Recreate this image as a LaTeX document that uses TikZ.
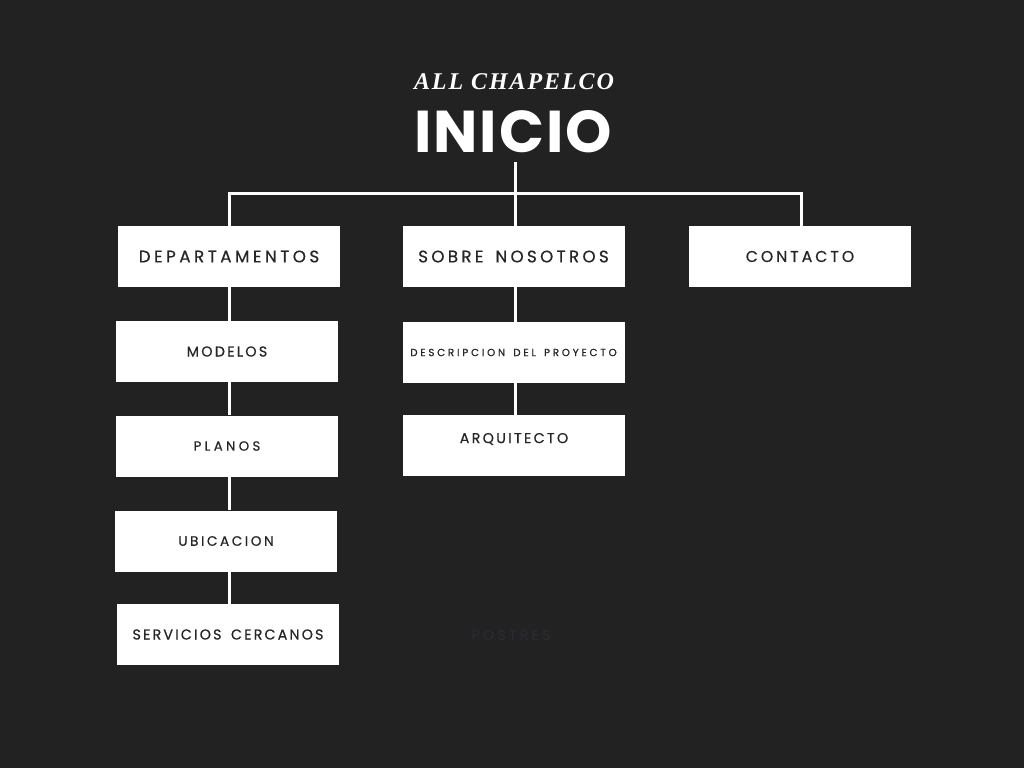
\documentclass[tikz,border=0pt]{standalone}
\usepackage{fontspec}
\newfontfamily\pop{Poppins}[FakeBold=0.6]
\newfontfamily\popbold{Poppins}[BoldFont={Poppins Bold},LetterSpace=3.4]
\newfontfamily\serifbi{Liberation Serif}[LetterSpace=8]
\definecolor{bg}{HTML}{222222}
\definecolor{ink}{HTML}{262626}
\definecolor{ghost}{HTML}{2A2A33}
\newcommand{\lbl}[2]{\pop\fontsize{#1}{#1}\selectfont\addfontfeature{LetterSpace=#2}}
\newcommand{\wsp}{\hspace{0.25em}}
\tikzset{
  box/.style={fill=white, draw=none, minimum width=222pt, minimum height=61pt, inner sep=0pt, text=ink},
  conn/.style={draw=white, line width=3pt}
}
\begin{document}
\begin{tikzpicture}[x=1pt,y=-1pt]
\useasboundingbox[fill=bg] (0,0) rectangle (1024,768);
\node[anchor=base, text=white, font=\serifbi\fontsize{24}{26}\selectfont\bfseries\itshape] (brand) at (514,89) {ALL CHAPELCO};
\node[anchor=base, text=white, font=\popbold\fontsize{59}{60}\selectfont\bfseries] (inicio) at (513,152) {INICIO};
\node[box, font=\lbl{16.7}{21}] (dep) at (229,256.5) {DEPARTAMENTOS};
\node[box, font=\lbl{16.7}{20}] (sob) at (513.5,256.5) {SOBRE\wsp{} NOSOTROS};
\node[box, font=\lbl{15.7}{19}] (con) at (800,256.5) {CONTACTO};
\node[box, font=\lbl{14.3}{16}] (mod) at (227,351.5) {MODELOS};
\node[box, font=\lbl{13.3}{25}] (pla) at (227,446) {PLANOS};
\node[box, font=\lbl{13.6}{19}] (ubi) at (226,541) {UBICACION};
\node[box, font=\lbl{14.3}{15}] (ser) at (228,634.5) {SERVICIOS\wsp{} CERCANOS};
\node[box, font=\lbl{10.3}{27}] (des) at (513.5,352.5) {DESCRIPCION\wsp{} DEL\wsp{} PROYECTO};
\node[box] (arq) at (514,445.5) {};
\node[text=ink, inner sep=0pt, font=\lbl{14.3}{16}] (arqt) at (514,439) {ARQUITECTO};
\node[text=ghost, inner sep=0pt, font=\lbl{14.3}{22}] (pos) at (511,635) {POSTRES};
\coordinate (stem) at (515,162);
\coordinate (hub) at (515,193);
\draw[conn] (stem) -- (hub);
\draw[conn] (dep.north) |- (hub);
\draw[conn] (hub) -| ([xshift=1pt]con.north);
\draw[conn] (hub) -- (hub |- sob.north);
\draw[conn] (dep.south) -- (dep.south |- mod.north);
\draw[conn] (dep.south |- mod.south) -- (dep.south |- pla.north);
\draw[conn] (dep.south |- pla.south) -- (dep.south |- ubi.north);
\draw[conn] (dep.south |- ubi.south) -- (dep.south |- ser.north);
\draw[conn] (hub |- sob.south) -- (hub |- des.north);
\draw[conn] (hub |- des.south) -- (hub |- arq.north);
\end{tikzpicture}
\end{document}
